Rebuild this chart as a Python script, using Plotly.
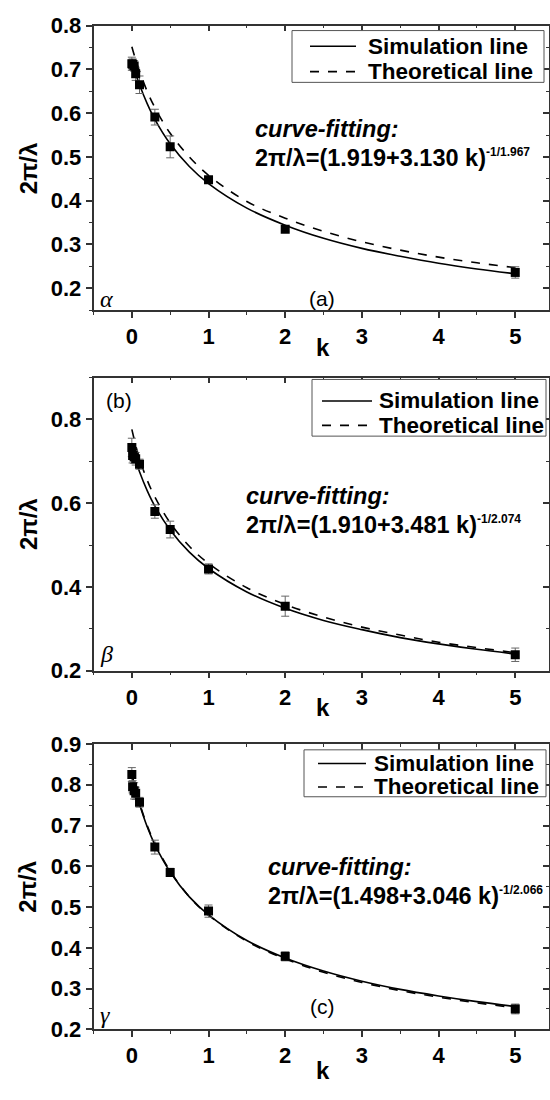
import plotly.graph_objects as go

# ---------------- data ----------------
k_pts = [0, 0.01, 0.03, 0.05, 0.1, 0.3, 0.5, 1, 2, 5]

a_pts = [0.713, 0.712, 0.708, 0.690, 0.665, 0.591, 0.523, 0.448, 0.335, 0.236]
a_err = [0.015, 0.012, 0.012, 0.015, 0.020, 0.018, 0.025, 0.006, 0.006, 0.013]
b_pts = [0.733, 0.714, 0.710, 0.706, 0.693, 0.580, 0.537, 0.443, 0.354, 0.238]
b_err = [0.022, 0.018, 0.015, 0.015, 0.012, 0.016, 0.020, 0.012, 0.024, 0.016]
c_pts = [0.825, 0.795, 0.785, 0.779, 0.757, 0.647, 0.585, 0.490, 0.379, 0.250]
c_err = [0.017, 0.015, 0.020, 0.015, 0.012, 0.017, 0.010, 0.015, 0.011, 0.012]

k_line = [0, 0.05, 0.1, 0.2, 0.3, 0.5, 0.75, 1, 1.5, 2, 2.5, 3, 3.5, 4, 4.5, 5]
a_sim = [0.718, 0.690, 0.665, 0.622, 0.586, 0.530, 0.478, 0.439, 0.383, 0.344, 0.314, 0.291, 0.273, 0.257, 0.244, 0.233]
a_theo = [0.752, 0.722, 0.696, 0.650, 0.613, 0.554, 0.500, 0.458, 0.398, 0.360, 0.330, 0.306, 0.287, 0.271, 0.258, 0.247]
b_sim = [0.732, 0.702, 0.675, 0.630, 0.593, 0.536, 0.483, 0.444, 0.388, 0.349, 0.320, 0.298, 0.279, 0.264, 0.251, 0.240]
b_theo = [0.776, 0.738, 0.706, 0.655, 0.615, 0.553, 0.497, 0.456, 0.398, 0.358, 0.328, 0.304, 0.285, 0.268, 0.255, 0.243]
c_sim = [0.822, 0.785, 0.752, 0.697, 0.653, 0.586, 0.525, 0.481, 0.418, 0.375, 0.343, 0.318, 0.298, 0.282, 0.268, 0.256]
c_theo = [0.826, 0.788, 0.755, 0.700, 0.656, 0.588, 0.525, 0.480, 0.416, 0.373, 0.340, 0.315, 0.295, 0.279, 0.265, 0.253]

x_ticks = [0, 1, 2, 3, 4, 5]
legend_names = ["Simulation line", "Theoretical line"]
fit_main = [
    "2π/λ=(1.919+3.130 k)",
    "2π/λ=(1.910+3.481 k)",
    "2π/λ=(1.498+3.046 k)",
]
fit_exp = ["-1/1.967", "-1/2.074", "-1/2.066"]
panel_tags = ["(a)", "(b)", "(c)"]
greek = ["α", "β", "γ"]

# ---------------- layout helpers ----------------
W, H = 550, 1100
FONT = "Liberation Sans"
LINEC = "#333333"

def px_x(v):
    return v / W

def px_y(v):
    return 1 - v / H

x_dom = [px_x(93.5), px_x(549)]
y_doms = [
    [px_y(305), px_y(14)],
    [px_y(674), px_y(374)],
    [px_y(1041), px_y(749)],
]
y_ranges = [[0.15, 0.8], [0.2, 0.9], [0.2, 0.9]]
y_dticks = [0.1, 0.2, 0.1]
x_range = [-0.5, 5.44]

panels = [
    (a_pts, a_err, a_sim, a_theo),
    (b_pts, b_err, b_sim, b_theo),
    (c_pts, c_err, c_sim, c_theo),
]

# manual legend boxes (pixel geometry): box x0,x1,y0,y1, line x0,x1, text x, row y's
legend_geo = [
    (292, 544, 19, 72, 310, 356, 366, (35, 61)),
    (312, 546, 376, 434, 322, 372, 377, (398, 423)),
    (304, 546, 755, 803, 318, 366, 372, (769, 793)),
]

fig = go.Figure()
layout = dict(
    width=W, height=H,
    margin=dict(l=0, r=0, t=0, b=0),
    paper_bgcolor="white", plot_bgcolor="white",
    showlegend=False,
    font=dict(family=FONT, color="black"),
)
annotations = []
shapes = []

# (left k, pixel y of the boundary between the two text lines)
fit_pos = [(1.595, 134), (1.477, 510), (1.764, 889)]
tag_pos = [(2.48, 0.176), (-0.36, 0.844), (2.48, 0.257)]
greek_pos = [(-0.44, 0.176), (-0.44, 0.24), (-0.44, 0.236)]
ytitle_y = [160, 524, 895]
xtitle_y = [343, 712, 1083]

def key(s):
    if s == "x":
        return "xaxis"
    if s == "y":
        return "yaxis"
    return s.replace("x", "xaxis").replace("y", "yaxis")

for i, (pts, err, sim, theo) in enumerate(panels):
    n = i + 1
    xa = "x" if n == 1 else f"x{n}"
    ya = "y" if n == 1 else f"y{n}"
    xtop = f"x{n+3}"
    yright = f"y{n+3}"

    fig.add_trace(go.Scatter(
        x=k_line, y=sim, mode="lines", line=dict(color="black", width=1.6, shape="spline"),
        name=legend_names[0], xaxis=xa, yaxis=ya))
    fig.add_trace(go.Scatter(
        x=k_line, y=theo, mode="lines", line=dict(color="black", width=1.6, dash="dash", shape="spline"),
        name=legend_names[1], xaxis=xa, yaxis=ya))
    fig.add_trace(go.Scatter(
        x=k_pts, y=pts, mode="markers",
        marker=dict(symbol="square", size=9, color="black"),
        error_y=dict(type="data", array=err, color="#666666", thickness=1, width=4),
        xaxis=xa, yaxis=ya))
    # dummy traces so that the mirror axes exist
    fig.add_trace(go.Scatter(x=[None], y=[None], xaxis=xtop, yaxis=ya, hoverinfo="skip"))
    fig.add_trace(go.Scatter(x=[None], y=[None], xaxis=xa, yaxis=yright, hoverinfo="skip"))

    tickfont = dict(family=FONT, size=22, color="black", weight="bold")
    common = dict(showgrid=False, zeroline=False, showline=True, linecolor=LINEC, linewidth=1.5,
                  ticklen=6, tickwidth=1.5, tickcolor=LINEC)
    layout[key(xa)] = dict(
        domain=x_dom, anchor=ya, range=x_range, tickvals=x_ticks, ticks="outside",
        minor=dict(ticks="outside", ticklen=3, dtick=0.5, tick0=0, tickcolor=LINEC, tickwidth=1.2),
        tickfont=tickfont, **common)
    layout[key(ya)] = dict(
        domain=y_doms[i], anchor=xa, range=y_ranges[i], dtick=y_dticks[i], tick0=0, ticks="outside",
        minor=dict(ticks="outside", ticklen=3, dtick=y_dticks[i] / 2, tick0=0, tickcolor=LINEC, tickwidth=1.2),
        tickfont=tickfont, tickformat=".1f", **common)
    layout[key(xtop)] = dict(
        overlaying=xa, side="top", anchor=ya, range=x_range, tickvals=x_ticks, ticks="inside",
        minor=dict(ticks="inside", ticklen=3, dtick=0.5, tick0=0, tickcolor=LINEC, tickwidth=1.2),
        showticklabels=False, **common)
    layout[key(yright)] = dict(
        overlaying=ya, side="right", anchor=xa, range=y_ranges[i], dtick=y_dticks[i], tick0=0, ticks="inside",
        minor=dict(ticks="inside", ticklen=3, dtick=y_dticks[i] / 2, tick0=0, tickcolor=LINEC, tickwidth=1.2),
        showticklabels=False, **common)

    # legend box
    bx0, bx1, by0, by1, lx0, lx1, tx, rows = legend_geo[i]
    shapes.append(dict(type="rect", xref="paper", yref="paper",
                       x0=px_x(bx0), x1=px_x(bx1), y0=px_y(by1), y1=px_y(by0),
                       line=dict(color="#555555", width=1), fillcolor="white", layer="above"))
    for r, dash in zip(rows, ["solid", "dash"]):
        shapes.append(dict(type="line", xref="paper", yref="paper",
                           x0=px_x(lx0), x1=px_x(lx1), y0=px_y(r), y1=px_y(r),
                           line=dict(color="black", width=1.6, dash=dash), layer="above"))
    for r, name in zip(rows, legend_names):
        annotations.append(dict(
            x=px_x(tx), y=px_y(r), xref="paper", yref="paper", xanchor="left", yanchor="middle",
            showarrow=False, text="<b>" + name + "</b>", font=dict(family=FONT, size=22.5, color="black")))

    fx, fyb = fit_pos[i]
    annotations.append(dict(
        x=fx, y=px_y(fyb), xref=xa, yref="paper", xanchor="left", yanchor="bottom", showarrow=False,
        text="<b><i>curve-fitting:</i></b>", font=dict(family=FONT, size=23.5, color="black"),
        borderpad=0))
    annotations.append(dict(
        x=fx, y=px_y(fyb + 1), xref=xa, yref="paper", xanchor="left", yanchor="top", showarrow=False,
        text="<b>" + fit_main[i] + "<sup><span style='font-size:12px'>" + fit_exp[i] + "</span></sup></b>",
        font=dict(family=FONT, size=23.5, color="black"), borderpad=0))
    tx2, ty2 = tag_pos[i]
    annotations.append(dict(
        x=tx2, y=ty2, xref=xa, yref=ya, xanchor="left" if i == 1 else "center", yanchor="middle",
        showarrow=False, text=panel_tags[i], font=dict(family=FONT, size=21, color="black")))
    gx, gy = greek_pos[i]
    annotations.append(dict(
        x=gx, y=gy, xref=xa, yref=ya, xanchor="left", yanchor="middle",
        showarrow=False, text="<i>" + greek[i] + "</i>",
        font=dict(family="Liberation Serif", size=24, color="black")))
    annotations.append(dict(
        x=px_x(28), y=px_y(ytitle_y[i]), xref="paper", yref="paper", xanchor="center", yanchor="middle",
        showarrow=False, text="<b>2π/λ</b>", textangle=-90,
        font=dict(family=FONT, size=24, color="black")))
    annotations.append(dict(
        x=px_x(323), y=px_y(xtitle_y[i]), xref="paper", yref="paper", xanchor="center", yanchor="middle",
        showarrow=False, text="<b>k</b>", font=dict(family=FONT, size=24, color="black")))

layout["annotations"] = annotations
layout["shapes"] = shapes
fig.update_layout(**layout)
fig.write_html("out.html")
